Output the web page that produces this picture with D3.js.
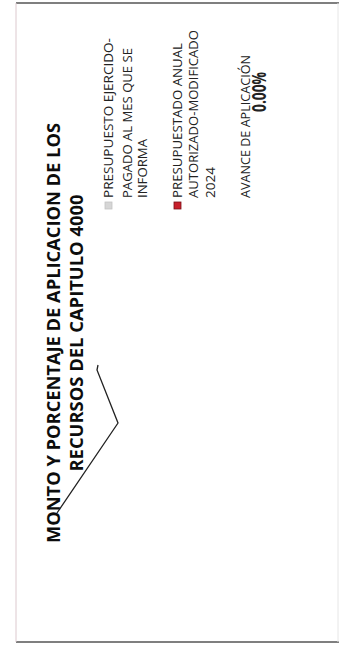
<!DOCTYPE html>
<html><head><meta charset="utf-8">
<script src="https://cdn.jsdelivr.net/npm/d3@7"></script>
<style>html,body{margin:0;padding:0;background:#fff;}svg{display:block;}</style>
</head><body>
<script>
// ---- data ----
const titleLines = ["MONTO Y PORCENTAJE DE APLICACION DE LOS", "RECURSOS DEL CAPITULO 4000"];
const seriesNames = ["PRESUPUESTO EJERCIDO-PAGADO AL MES QUE SE INFORMA", "PRESUPUESTADO ANUAL AUTORIZADO-MODIFICADO 2024"];
const seriesLines = [["PRESUPUESTO EJERCIDO-", "PAGADO AL MES QUE SE", "INFORMA"], ["PRESUPUESTADO ANUAL", "AUTORIZADO-MODIFICADO", "2024"]];
const seriesValues = [0, 0];
const seriesColors = ["#d6d6d6", "#c8202c"];
const avanceLabel = "AVANCE DE APLICACIÓN";
const avanceValue = 0.0;

// ---- layout ----
const W = 339, H = 645;
const svg = d3.select("body").append("svg").attr("width", W).attr("height", H);

// frame of the scanned page
svg.append("line").attr("x1", 16).attr("x2", W).attr("y1", 3).attr("y2", 3).attr("stroke", "#555").attr("stroke-width", 1.5);
svg.append("line").attr("x1", 16).attr("x2", W).attr("y1", 642).attr("y2", 642).attr("stroke", "#555").attr("stroke-width", 1.5);
svg.append("line").attr("x1", 16).attr("x2", 16).attr("y1", 3).attr("y2", 642).attr("stroke", "#dcc9ce").attr("stroke-width", 1);
svg.append("line").attr("x1", 338).attr("x2", 338).attr("y1", 3).attr("y2", 642).attr("stroke", "#e6e6e6").attr("stroke-width", 1);

// rotated chart group: local x runs bottom->top, local y runs left->right
const g = svg.append("g").attr("transform", `translate(0,${H}) rotate(-90)`);

// title
const titleBase = [60, 83];
const titleLen = [420, 277];
g.selectAll("text.title").data(titleLines).join("text")
  .attr("class", "title")
  .attr("x", 312).attr("y", (d, i) => titleBase[i])
  .attr("text-anchor", "middle")
  .attr("font-family", "'Open Sans', sans-serif").attr("font-weight", "bold")
  .attr("font-size", 18.5).attr("fill", "#0d0d0d")
  .attr("textLength", (d, i) => titleLen[i]).attr("lengthAdjust", "spacingAndGlyphs")
  .text(d => d);

// plot area (values are zero -> bars of no length)
const x = d3.scaleLinear().domain([0, d3.max(seriesValues) || 1]).range([0, 300]);
const yb = d3.scaleBand().domain(seriesNames).range([110, 220]).padding(0.3);
g.selectAll("rect.bar").data(seriesValues).join("rect")
  .attr("class", "bar")
  .attr("x", 120).attr("y", (d, i) => yb(seriesNames[i]))
  .attr("width", d => x(d)).attr("height", yb.bandwidth())
  .attr("fill", (d, i) => seriesColors[i]);

// legend
const legBase = [[113, 132, 147], [182, 198, 215]];
const legLen = [[160, 150, 59], [155, 168, 31]];
const legend = g.selectAll("g.leg").data(seriesNames).join("g").attr("class", "leg");
legend.append("rect")
  .attr("x", 436).attr("y", (d, i) => legBase[i][0] - 8)
  .attr("width", 7).attr("height", 7)
  .attr("fill", (d, i) => seriesColors[i])
  .attr("stroke", (d, i) => i === 1 ? "#7a1018" : "#c4c4c4").attr("stroke-width", 0.8);
legend.each(function (d, i) {
  d3.select(this).selectAll("text").data(seriesLines[i]).join("text")
    .attr("x", 447).attr("y", (t, j) => legBase[i][j])
    .attr("font-family", "'Open Sans', sans-serif").attr("font-size", 12)
    .attr("fill", "#222")
    .attr("textLength", (t, j) => legLen[i][j]).attr("lengthAdjust", "spacingAndGlyphs")
    .text(t => t);
});

// avance
g.append("text").attr("x", 447).attr("y", 250)
  .attr("font-family", "'Open Sans', sans-serif").attr("font-size", 12).attr("fill", "#222")
  .attr("textLength", 143).attr("lengthAdjust", "spacingAndGlyphs")
  .text(avanceLabel);
g.append("text").attr("x", 533).attr("y", 266)
  .attr("font-family", "'Open Sans', sans-serif").attr("font-weight", "bold").attr("font-size", 19).attr("fill", "#222")
  .attr("textLength", 40).attr("lengthAdjust", "spacingAndGlyphs")
  .text(d3.format(".2%")(avanceValue));

// hand-drawn check mark over the scan
const checkMark = [[57, 513], [118, 423], [97, 370], [98, 365]];
svg.append("path").attr("d", d3.line()(checkMark))
  .attr("fill", "none").attr("stroke", "#222").attr("stroke-width", 1.3);
</script>
</body></html>
